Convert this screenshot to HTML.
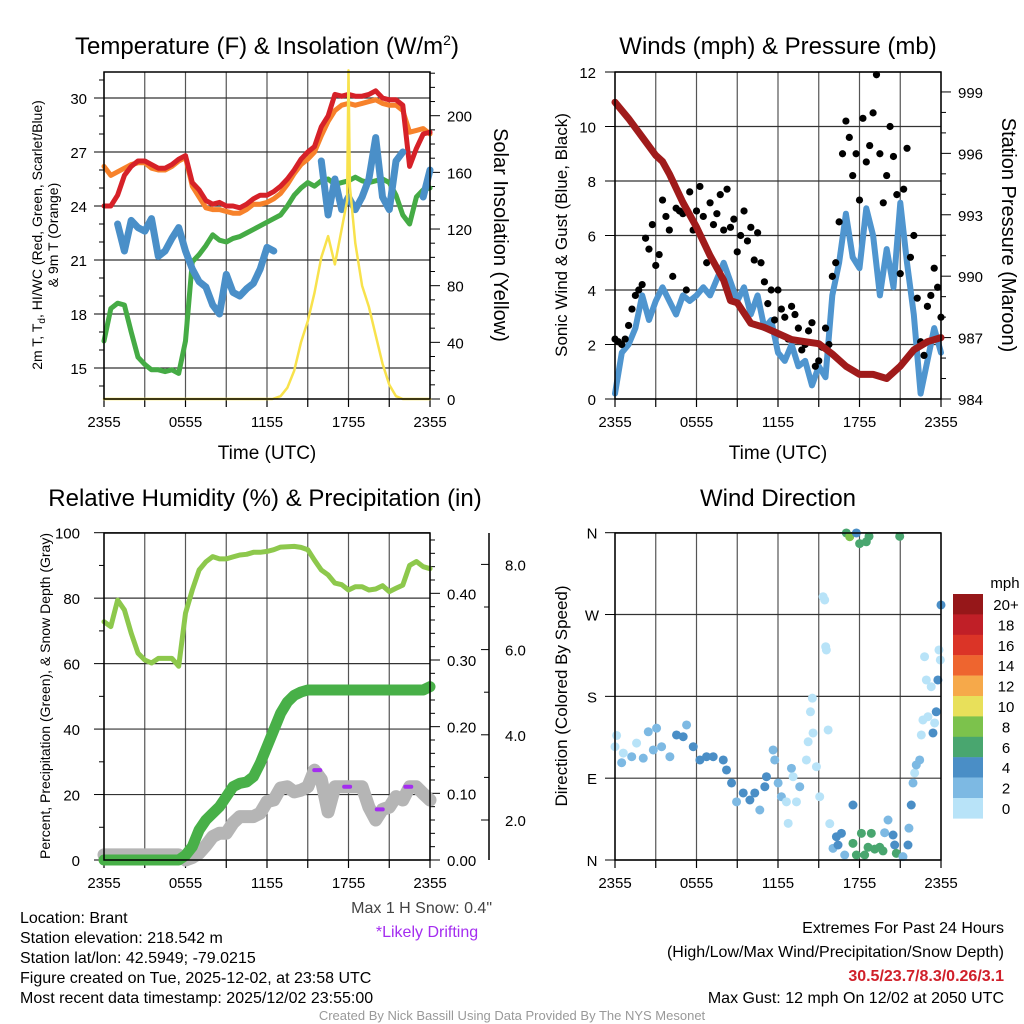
<!DOCTYPE html>
<html><head><meta charset="utf-8">
<style>
html,body{margin:0;padding:0;background:#fff;}
svg{display:block;font-family:"Liberation Sans",Arial,sans-serif;}
</style></head>
<body>
<svg id="chart" width="1024" height="1024" viewBox="0 0 1024 1024" xmlns="http://www.w3.org/2000/svg">
<rect x="0" y="0" width="1024" height="1024" fill="#fff"/>
<text x="267" y="54" font-size="24" text-anchor="middle">Temperature (F) &amp; Insolation (W/m<tspan dy="-9" font-size="14">2</tspan><tspan dy="9">)</tspan></text>
<text x="778" y="54" font-size="24" text-anchor="middle">Winds (mph) &amp; Pressure (mb)</text>
<text x="265" y="506" font-size="24" text-anchor="middle">Relative Humidity (%) &amp; Precipitation (in)</text>
<text x="778" y="506" font-size="24" text-anchor="middle">Wind Direction</text>
<text x="267" y="459" font-size="19" text-anchor="middle">Time (UTC)</text>
<text x="778" y="459" font-size="19" text-anchor="middle">Time (UTC)</text>
<text transform="translate(42,235) rotate(-90)" font-size="14" text-anchor="middle">2m T, T<tspan font-size="10" dy="3">d</tspan><tspan dy="-3">, HI/WC (Red, Green, Scarlet/Blue)</tspan></text>
<text transform="translate(58,235) rotate(-90)" font-size="14" text-anchor="middle">&amp; 9m T (Orange)</text>
<text transform="translate(494,235) rotate(90)" font-size="20" text-anchor="middle">Solar Insolation (Yellow)</text>
<text transform="translate(567,235) rotate(-90)" font-size="17" text-anchor="middle">Sonic Wind &amp; Gust (Blue, Black)</text>
<text transform="translate(1002,235) rotate(90)" font-size="20" text-anchor="middle">Station Pressure (Maroon)</text>
<text transform="translate(50,696) rotate(-90)" font-size="14" text-anchor="middle">Percent, Precipitation (Green), &amp; Snow Depth (Gray)</text>
<text transform="translate(567,696) rotate(-90)" font-size="17" text-anchor="middle">Direction (Colored By Speed)</text>
<g font-size="16">
<text x="20" y="923">Location: Brant</text>
<text x="20" y="943">Station elevation: 218.542 m</text>
<text x="20" y="963">Station lat/lon: 42.5949; -79.0215</text>
<text x="20" y="983">Figure created on Tue, 2025-12-02, at 23:58 UTC</text>
<text x="20" y="1003">Most recent data timestamp: 2025/12/02 23:55:00</text>
</g>
<text x="492" y="913" font-size="16" fill="#444" text-anchor="end">Max 1 H Snow: 0.4"</text>
<text x="427" y="937" font-size="16" fill="#A42DF0" text-anchor="middle">*Likely Drifting</text>
<text x="1004" y="933" font-size="16" text-anchor="end">Extremes For Past 24 Hours</text>
<text x="1004" y="957" font-size="16" text-anchor="end">(High/Low/Max Wind/Precipitation/Snow Depth)</text>
<text x="1004" y="981" font-size="16" font-weight="bold" fill="#D0202A" text-anchor="end">30.5/23.7/8.3/0.26/3.1</text>
<text x="1004" y="1003" font-size="16" text-anchor="end">Max Gust: 12 mph On 12/02 at 2050 UTC</text>
<text x="512" y="1020" font-size="13" fill="#999" text-anchor="middle">Created By Nick Bassill Using Data Provided By The NYS Mesonet</text>
</svg>
<script>
const timeTickLabels = ["2355","0555","1155","1755","2355"];
const halfHours = [0,0.5,1,1.5,2,2.5,3,3.5,4,4.5,5,5.5,6,6.5,7,7.5,8,8.5,9,9.5,10,10.5,11,11.5,12,12.5,13,13.5,14,14.5,15,15.5,16,16.5,17,17.5,18,18.5,19,19.5,20,20.5,21,21.5,22,22.5,23,23.5,24];
const temp2m = [24.0,24.0,24.6,25.7,26.2,26.5,26.5,26.3,26.1,26.1,26.3,26.6,26.8,25.3,24.9,24.3,24.1,24.2,24.0,24.0,23.9,24.1,24.4,24.6,24.6,24.8,25.1,25.5,26.0,26.6,27.0,27.3,28.4,29.0,30.2,30.1,30.2,30.1,30.1,30.2,30.4,30.0,29.9,29.9,29.6,26.2,27.2,28.0,28.1];
const temp9m = [26.2,25.7,25.9,26.1,26.3,26.4,26.4,26.1,26.0,26.0,26.2,26.5,26.7,25.1,24.5,23.9,23.8,23.8,23.7,23.6,23.6,23.8,24.1,24.1,24.2,24.4,24.7,25.2,25.8,26.3,26.6,27.0,27.9,28.7,29.3,29.6,29.7,29.6,29.7,29.8,29.9,29.7,29.6,29.6,29.3,28.1,28.2,28.3,28.0];
const dewpoint = [16.5,18.3,18.6,18.5,17.0,15.6,15.2,14.9,14.9,14.8,14.9,14.7,16.5,20.9,21.3,21.8,22.4,22.1,22.0,22.2,22.3,22.5,22.7,22.9,23.1,23.3,23.5,24.0,24.6,25.0,25.3,25.1,25.4,25.5,25.2,25.3,25.4,25.6,25.4,25.3,25.4,25.5,25.3,24.6,23.5,23.0,24.5,24.9,25.0];
const windChill = [null,null,23.0,21.5,23.2,22.8,22.6,23.3,21.2,21.5,22.2,22.8,21.5,20.5,19.8,19.5,18.5,18.0,20.2,19.2,19.0,19.4,19.7,20.5,21.7,21.5,null,null,null,null,null,null,26.5,23.5,25.5,23.8,24.5,23.8,24.5,25.5,27.8,24.5,23.8,26.5,27.0,null,null,24.5,26.0];
const insolHours = [0,12.4,13,13.5,14,14.5,15,15.5,16,16.5,17,17.5,17.9,18,18.1,18.5,19,19.5,20,20.5,21,21.5,22,24];
const insolValues = [0,0,2,8,20,40,55,75,100,115,95,120,140,232,150,110,80,65,45,25,10,2,0,0];
const sonicWind = [0.2,1.7,2.0,2.6,3.8,2.9,3.6,4.1,3.6,3.1,3.8,3.6,3.8,4.1,3.8,4.4,5.0,4.3,3.6,4.1,3.1,3.8,2.6,2.9,1.7,1.4,2.0,1.2,1.4,0.5,1.2,0.8,3.8,5.0,6.8,5.2,4.8,7.0,6.0,3.8,5.5,4.1,7.2,5.0,3.1,0.2,1.4,2.6,1.7];
const gustValues = [2.2,2.1,2.0,2.2,2.7,3.3,3.8,4.0,4.2,5.9,5.5,6.4,4.9,5.3,7.3,6.7,6.2,4.5,7.0,6.9,6.8,4.0,7.6,6.2,6.9,7.8,6.7,5.0,7.2,6.4,6.8,7.5,6.2,7.7,6.3,6.6,5.4,6.0,6.9,5.8,6.3,5.1,6.1,5.0,4.3,3.5,4.0,2.9,4.0,3.3,3.0,2.2,3.4,3.1,2.6,1.8,2.0,2.5,2.8,1.2,1.4,1.9,2.6,2.0,4.5,5.0,6.5,9.0,10.2,9.6,8.2,9.0,7.3,10.3,8.7,9.3,10.5,11.9,9.0,7.2,8.2,10.0,8.9,7.5,4.6,7.7,9.2,5.2,6.0,3.7,2.1,1.6,3.4,3.8,4.8,4.1,3.0];
const pressureHours = [0,1,2,3,3.5,4,5,6,7,8,8.5,9,10,11,12,13,14,15,16,17,18,19,20,21,22,23,24];
const pressureValues = [998.5,997.7,996.8,995.9,995.6,995.0,993.6,992.4,991.0,989.8,988.8,988.7,987.7,987.5,987.2,986.9,986.8,986.7,986.2,985.6,985.2,985.2,985.0,985.6,986.4,986.8,987.0];
const relHumidity = [72.8,71.3,79.4,76.4,69.3,63.2,61.1,60.2,61.6,61.6,61.6,59.2,75.4,82.5,88.6,91.1,92.7,92.0,92.0,92.6,93.2,93.4,94.0,94.0,94.3,94.8,95.6,95.7,95.8,95.5,94.8,91.6,88.6,87.1,84.6,84.1,82.5,83.5,83.5,82.5,82.8,83.8,82.0,83.0,84.0,90.0,91.2,89.6,89.0];
const precipIn = [0,0,0,0,0,0,0,0,0,0,0,0,0.007,0.02,0.045,0.06,0.07,0.08,0.095,0.11,0.115,0.117,0.125,0.145,0.17,0.195,0.22,0.237,0.247,0.252,0.255,0.255,0.255,0.255,0.255,0.255,0.255,0.255,0.255,0.255,0.255,0.255,0.255,0.255,0.255,0.255,0.255,0.255,0.26];
const snowDepth = [1.18,1.18,1.18,1.18,1.18,1.18,1.18,1.18,1.18,1.18,1.18,1.18,1.06,1.12,1.22,1.4,1.61,1.69,1.69,1.93,2.08,2.08,2.08,2.16,2.43,2.47,2.75,2.78,2.66,2.7,2.78,3.17,2.95,2.19,2.78,2.78,2.78,2.78,2.78,2.3,2.0,2.25,2.3,2.55,2.47,2.78,2.78,2.62,2.47];
const driftHours = [15.7,17.9,20.3,22.4];
const dirHours = [0,0.12,0.61,0.49,1.23,1.59,2.08,2.45,2.82,3.06,3.43,4.04,4.53,5.02,5.27,5.76,6.25,6.74,7.23,7.97,8.21,8.58,8.95,9.44,9.93,10.29,10.66,11.03,11.15,11.64,11.76,12.01,12.25,12.62,12.75,12.99,13.11,13.36,13.6,14.09,14.22,14.39,14.53,14.58,14.83,15.07,15.32,15.44,15.51,15.56,15.69,15.81,16.05,16.3,16.42,16.67,16.91,17.03,17.28,17.52,17.52,17.77,17.77,18.01,18.14,18.38,18.63,18.5,18.7,18.87,19.12,19.49,19.73,19.85,20.1,20.47,20.59,20.71,20.96,21.2,21.57,21.64,21.81,21.94,22.06,22.18,22.43,22.55,22.67,22.92,22.79,23.04,23.28,23.41,23.53,23.65,23.77,23.85,23.95,24];
const dirDegrees = [124.6,137,117.6,107,113.6,128.6,112,141,121,145,124.6,113.6,137.5,135.6,148.5,124.6,110,113.6,113.6,110,99,84.7,64,73.7,66,73.7,55,80.6,91.6,121,110,84.7,69.6,64,40.3,100.8,91.6,64,80.6,110,130,163,178,139.7,102.6,69.6,289.6,286,234.6,231,143,40,12.8,25.6,16.5,29.3,5.5,359.7,355.6,60.5,18.3,5.5,359.7,348,29.3,5.5,14,350,356,29.3,12,14,10,30,44,27.5,16.5,7.3,356,3.7,16.5,35,60.5,84.7,95.7,104.5,110,137.5,154,198,223.6,157.6,190.6,139.7,150.7,163,198,231,220,280.5];
const dirSpeeds = [1.5,1.5,1.5,3,3,1.5,3,3,3,3,3,3,4.5,4.5,3,4.5,4.5,4.5,4.5,4.5,4.5,4.5,3,4.5,4.5,4.5,3,4.5,4.5,3,3,3,3,1.5,1.5,3,1.5,1.5,3,1.5,1.5,1.5,1.5,1.5,1.5,1.5,1.2,1.2,1.2,1.2,1.2,1.5,3,4.5,4.5,4.5,3,7,8.5,4.5,6.5,6.5,4.5,6.5,6.5,6.5,6.5,6.5,6.5,6.5,6.5,6.5,6.5,3,3,4.5,4.5,6.5,6.5,3,4.5,3,4.5,3,1.5,3,3,1.5,1.5,1.5,1.5,1.5,1.5,4.5,1.5,4.5,4.5,1.5,1.5,4.5,4.5];
const speedBinLabels = ["20+","18","16","14","12","10","8","6","4","2","0"];
const speedBinColors = ["#961719","#C01F27","#DB3427","#EE652F","#F6A94A","#E8E05A","#7CC24C","#49A66F","#4A8EC6","#7DB9E3","#B8E3F8"];

const NS = "http://www.w3.org/2000/svg";
const svg = document.getElementById("chart");
function mk(tag, attrs, parent){const e=document.createElementNS(NS,tag);for(const k in attrs)e.setAttribute(k,attrs[k]);(parent||svg).appendChild(e);return e;}
function txt(x,y,s,size,anchor,parent){const t=mk("text",{x:x,y:y,"font-size":size,"text-anchor":anchor||"middle"},parent);t.textContent=s;return t;}
function makePanel(x0,x1,y0,y1){return {x0,x1,y0,y1,xs:h=>x0+(x1-x0)*h/24};}
const P1=makePanel(104,430,72,399), P2=makePanel(615,941,72,399), P3=makePanel(104,430,533,860), P4=makePanel(615,941,533,860);
const yTemp=v=>368-(v-15)*18;
const yIns=v=>399-v*(283.3/200);
const yWind=v=>399-v*27.25;
const yPres=v=>399-(v-984)*20.47;
const yPct=v=>860-v*3.273;
const yPrec=v=>860-v*666.7;
const ySnow=v=>820-(v-2)*42.6;
const yDir=v=>860-v*(327.3/360);

function frame(P,name){
  const g=mk("g",{});
  
  
  for(let i=0;i<=8;i++){const x=P.xs(i*3);
    const l=mk("line",{x1:x,x2:x,y1:P.y0,y2:P.y1,stroke:"#555","stroke-width":1.2},g);
    
    
    const t=mk("line",{x1:x,x2:x,y1:P.y1,y2:P.y1+8,stroke:"#000","stroke-width":1.2},g);
    
    
  }
  timeTickLabels.forEach((s,i)=>{const t=txt(P.xs(i*6),P.y1+28,s,15,"middle",g);
    
    });
  return g;
}
function hgrid(g,P,y){
  const l=mk("line",{x1:P.x0,x2:P.x1,y1:y,y2:y,stroke:"#333","stroke-width":1.2},g);
  
  
}
function tick(g,x,y,len){
  const l=mk("line",{x1:x,x2:x+len,y1:y,y2:y,stroke:"#000","stroke-width":1},g);
  
  
}
function border(g,P){
  const r=mk("rect",{x:P.x0,y:P.y0,width:P.x1-P.x0,height:P.y1-P.y0,fill:"none",stroke:"#000","stroke-width":1.5},g);
  
  
}
function linePath(xsArr,ysArr,xf,yf){
  let d="",pen=false;
  for(let i=0;i<xsArr.length;i++){const v=ysArr[i];
    if(v===null||v===undefined){pen=false;continue;}
    d+=(pen?"L":"M")+xf(xsArr[i]).toFixed(1)+","+yf(v).toFixed(1);pen=true;}
  return d;
}
function series(parent,d,color,w,name){
  const p=mk("path",{d:d,fill:"none",stroke:color,"stroke-width":w,"stroke-linecap":"round","stroke-linejoin":"round"},parent);
  
  
  return p;
}

{
  const g=frame(P1,"temperature-panel");
  [15,18,21,24,27,30].forEach(v=>{hgrid(g,P1,yTemp(v));tick(g,P1.x0-10,yTemp(v),10);
    const t=txt(P1.x0-17,yTemp(v)+6,String(v),15,"end",g);
    
    });
  for(let v=14;v<=31;v++){tick(g,P1.x0-5,yTemp(v),5);}
  for(let v=0;v<=230;v+=10){tick(g,P1.x1,yIns(v),v%40===0?10:5);}
  [0,40,80,120,160,200].forEach(v=>{const t=txt(P1.x1+17,yIns(v)+6,String(v),15,"start",g);
    
    });
  series(g,linePath(halfHours,temp9m,P1.xs,yTemp),"#F7822B",5,"temp-9m-line");
  series(g,linePath(halfHours,temp2m,P1.xs,yTemp),"#D62128",5,"temp-2m-line");
  series(g,linePath(halfHours,dewpoint,P1.xs,yTemp),"#45AB45",5,"dewpoint-line");
  series(g,linePath(halfHours,windChill,P1.xs,yTemp),"#4A8FC8",7,"wind-chill-line");
  series(g,linePath(insolHours,insolValues,P1.xs,yIns),"#F8E24C",2.5,"insolation-line");
  border(g,P1);
}
{
  const g=frame(P2,"wind-panel");
  [0,2,4,6,8,10,12].forEach(v=>{hgrid(g,P2,yWind(v));tick(g,P2.x0-10,yWind(v),10);
    const t=txt(P2.x0-19,yWind(v)+6,String(v),15,"end",g);
    
    });
  for(let v=984;v<=999;v++){tick(g,P2.x1,yPres(v),v%3===0?10:5);}
  [984,987,990,993,996,999].forEach(v=>{const t=txt(P2.x1+17,yPres(v)+6,String(v),15,"start",g);
    
    });
  series(g,linePath(halfHours,sonicWind,P2.xs,yWind),"#4F95CF",6,"sonic-wind-line");
  gustValues.forEach((v,i)=>{const c=mk("circle",{cx:P2.xs(i*0.25),cy:yWind(v),r:3.6,fill:"#000"},g);
    
    });
  series(g,linePath(pressureHours,pressureValues,P2.xs,yPres),"#A01B1B",7,"pressure-line");
  border(g,P2);
}
{
  const g=frame(P3,"humidity-panel");
  [0,20,40,60,80,100].forEach(v=>{hgrid(g,P3,yPct(v));tick(g,P3.x0-10,yPct(v),10);
    const t=txt(P3.x0-24,yPct(v)+6,String(v),15,"end",g);
    
    });
  for(let v=10;v<100;v+=20){tick(g,P3.x0-5,yPct(v),5);}
  for(let k=0;k<=24;k++){tick(g,P3.x1,yPrec(k*0.02),k%5===0?10:5);}
  [0,0.1,0.2,0.3,0.4].forEach(v=>{const t=txt(P3.x1+17,yPrec(v)+6,v.toFixed(2),15,"start",g);
    
    });
  const ax=mk("line",{x1:489,x2:489,y1:533,y2:860,stroke:"#000","stroke-width":1.5},g);
  
  
  for(let v=2;v<=8;v++){tick(g,489-(v%2===0?8:5),ySnow(v),v%2===0?8:5);}
  [2,4,6,8].forEach(v=>{const t=txt(505,ySnow(v)+6,v.toFixed(1),15,"start",g);
    
    });
  series(g,linePath(halfHours,relHumidity,P3.xs,yPct),"#8DC84C",5,"rh-line");
  series(g,linePath(halfHours,snowDepth,P3.xs,ySnow),"#B5B5B5",13,"snow-depth-line");
  series(g,linePath(halfHours,precipIn,P3.xs,yPrec),"#48B048",11,"precip-line");
  driftHours.forEach(h=>{const i=Math.round(h*2);const x=P3.xs(h),y=ySnow(snowDepth[i]);
    const l=mk("line",{x1:x-3,x2:x+3,y1:y,y2:y,stroke:"#A42DF0","stroke-width":4,"stroke-linecap":"round"},g);
    
    });
  border(g,P3);
}
{
  const g=frame(P4,"wind-direction-panel");
  [["N",0],["E",90],["S",180],["W",270],["N",360]].forEach(([s,v])=>{hgrid(g,P4,yDir(v));tick(g,P4.x0-10,yDir(v),10);
    const t=txt(592,yDir(v)+6,s,15,"middle",g);
    
    });
  const binColor=s=>speedBinColors[10-Math.min(10,Math.floor(s/2))];
  dirHours.forEach((h,i)=>{const c=mk("circle",{cx:P4.xs(h),cy:yDir(dirDegrees[i]),r:4.5,fill:binColor(dirSpeeds[i])},g);
    
    });
  border(g,P4);
  const lg=mk("g",{});
  
  
  const t0=txt(1005,588,"mph",15,"middle",lg);
  
  
  speedBinLabels.forEach((s,i)=>{const y=594+i*20.4;
    const r=mk("rect",{x:953,y:y,width:30,height:20.6,fill:speedBinColors[i]},lg);
    
    
    const t=txt(1006,y+16,s,15,"middle",lg);
    
    });
}
</script>
</body></html>
